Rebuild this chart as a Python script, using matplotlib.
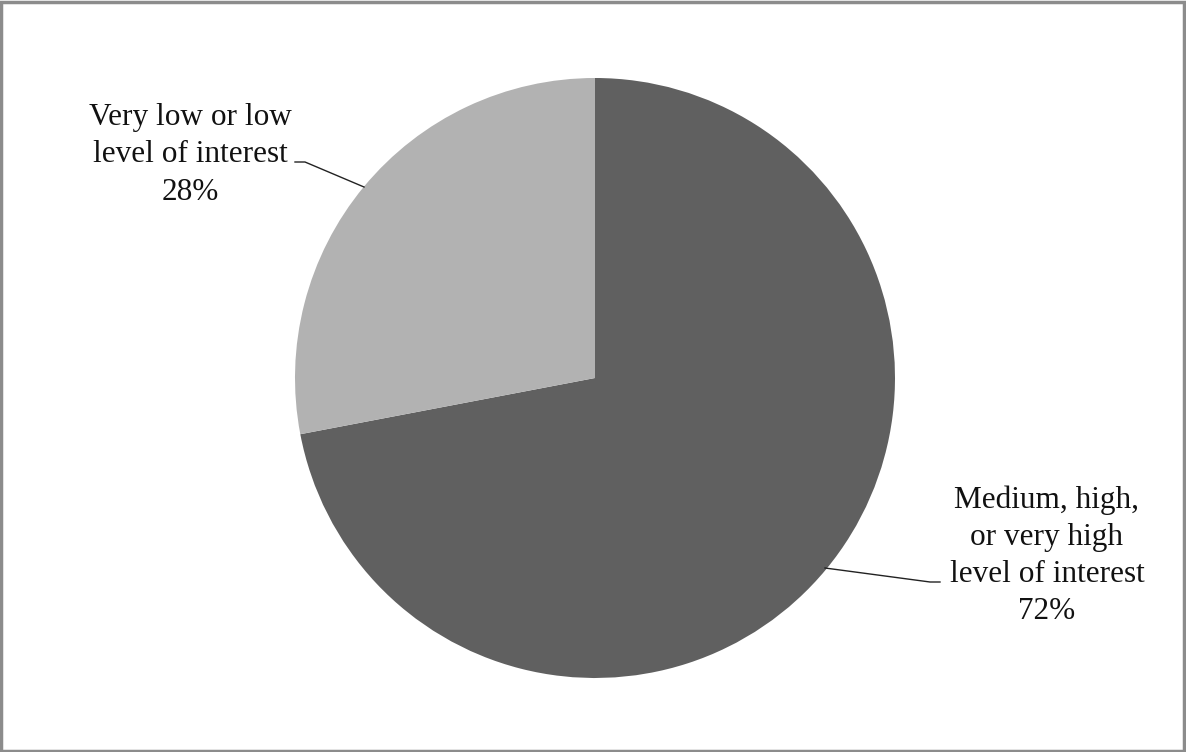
import matplotlib
matplotlib.use("Agg")
import matplotlib.pyplot as plt
from matplotlib.patches import Rectangle

labels = ["Medium, high,\nor very high\nlevel of interest\n72%", "Very low or low\nlevel of interest\n28%"]
values = [72, 28]
colors = ["#606060", "#b2b2b2"]

W, H = 1186, 752
fig = plt.figure(figsize=(W / 100, H / 100), dpi=100)
ax = fig.add_axes([0, 0, 1, 1])
ax.set_xlim(0, W)
ax.set_ylim(0, H)
ax.set_aspect("equal")
ax.axis("off")

ax.pie(values, colors=colors, startangle=90, counterclock=False,
       center=(595, H - 378), radius=300, frame=True,
       wedgeprops=dict(linewidth=0))
ax.set_xlim(0, W)
ax.set_ylim(0, H)
ax.axis("off")

font = dict(family="Liberation Serif", fontsize=22.5, color="#111111",
            ha="center", va="center", linespacing=1.37)
ax.text(1047, H - 556, labels[0], **font)
ax.text(190, H - 155, labels[1], **font)

ax.plot([825, 930, 940], [H - 568, H - 582, H - 582], color="#222222", lw=1)
ax.plot([295, 305, 364], [H - 162, H - 162, H - 187], color="#222222", lw=1)

fig.add_artist(Rectangle((0.001, 0.001), 0.997, 0.997, transform=fig.transFigure,
                         fill=False, edgecolor="#8c8c8c", linewidth=2.5))

fig.savefig("out.png", dpi=100)
